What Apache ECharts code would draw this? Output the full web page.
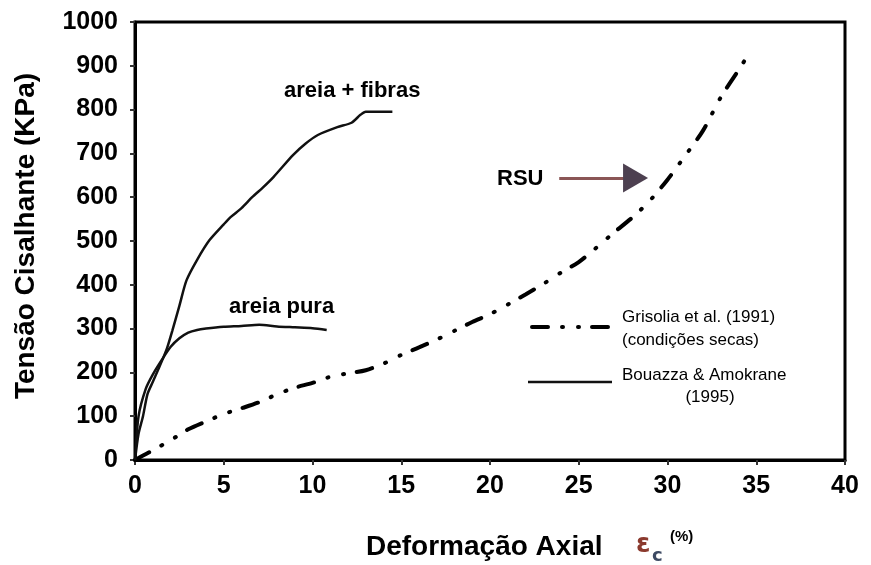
<!DOCTYPE html>
<html>
<head>
<meta charset="utf-8">
<script src="https://cdn.jsdelivr.net/npm/echarts/dist/echarts.min.js"></script>
<style>
  html, body { margin: 0; padding: 0; background: #ffffff; }
  #chart { width: 871px; height: 565px; }
</style>
</head>
<body>
<div id="chart"></div>
<script>
// Axial strain (%) vs shear stress (kPa)
const xTicks = [0, 5, 10, 15, 20, 25, 30, 35, 40];
const yTicks = [0, 100, 200, 300, 400, 500, 600, 700, 800, 900, 1000];

// Grisolia et al. (1991) — RSU, dry conditions
const rsuStrain = [0, 0.3, 1, 2, 3, 4, 5, 6, 7, 8, 9, 10, 11, 12, 13, 14, 15, 16, 17, 18, 19, 20, 21, 22, 23, 24, 25, 26, 27, 28, 29, 30, 31, 32, 33, 34, 34.5];
const rsuStress = [0, 7, 22, 45, 70, 88, 105, 118, 132, 150, 165, 176, 190, 198, 205, 220, 240, 257, 275, 295, 315, 333, 355, 378, 402, 428, 452, 485, 520, 553, 592, 640, 695, 752, 828, 890, 922];

// Bouazza & Amokrane (1995) — sand + fibres
const fibrasStrain = [0, 0.2, 0.45, 0.7, 1.0, 1.4, 1.8, 2.1, 2.5, 2.9, 3.5, 4.2, 5.0, 5.4, 6.0, 6.6, 7.2, 7.8, 8.9, 9.6, 10.3, 11.4, 12.2, 12.7, 13.0, 14.5];
const fibrasStress = [0, 60, 100, 150, 178, 215, 255, 295, 352, 410, 457, 502, 538, 555, 575, 600, 622, 646, 696, 722, 742, 760, 770, 788, 795, 795];

// Bouazza & Amokrane (1995) — pure sand
const puraStrain = [0, 0.2, 0.6, 1.0, 1.5, 2.0, 2.5, 3.0, 3.5, 4.0, 5.0, 6.0, 7.0, 8.0, 9.0, 10.0, 10.8];
const puraStress = [0, 100, 162, 195, 228, 258, 278, 291, 297, 300, 304, 306, 309, 305, 303, 301, 297];

const pairs = (xs, ys) => xs.map((x, i) => [x, ys[i]]);

const FONT = '"Liberation Sans", Arial, sans-serif';
const chart = echarts.init(document.getElementById('chart'), null, { renderer: 'canvas' });

const dashDotDot = [16, 14, 1, 15, 1, 13];

chart.setOption({
  animation: false,
  backgroundColor: '#ffffff',
  grid: {
    left: 135, right: 26, top: 22, bottom: 105,
    show: true, borderColor: '#000', borderWidth: 3
  },
  xAxis: {
    type: 'value', min: 0, max: 40, interval: 5,
    axisLine: { show: true, lineStyle: { color: '#000', width: 3 } },
    axisTick: { show: true, length: 5, lineStyle: { color: '#333', width: 2 } },
    splitLine: { show: false },
    axisLabel: {
      color: '#000', fontFamily: FONT, fontWeight: 'bold', fontSize: 25, margin: 14,
      formatter: v => xTicks.includes(v) ? String(v) : ''
    }
  },
  yAxis: {
    type: 'value', min: 0, max: 1000, interval: 100,
    axisLine: { show: true, lineStyle: { color: '#000', width: 3 } },
    axisTick: { show: true, length: 5, lineStyle: { color: '#333', width: 2 } },
    splitLine: { show: false },
    axisLabel: {
      color: '#000', fontFamily: FONT, fontWeight: 'bold', fontSize: 25, margin: 17,
      formatter: v => yTicks.includes(v) ? String(v) : ''
    }
  },
  series: [
    {
      name: 'Grisolia et al. (1991)',
      type: 'line', showSymbol: false, smooth: 0.3,
      data: pairs(rsuStrain, rsuStress),
      lineStyle: { color: '#000', width: 4, type: dashDotDot, cap: 'round' }
    },
    {
      name: 'areia + fibras',
      type: 'line', showSymbol: false, smooth: 0.25,
      data: pairs(fibrasStrain, fibrasStress),
      lineStyle: { color: '#111', width: 2.5 }
    },
    {
      name: 'areia pura',
      type: 'line', showSymbol: false, smooth: 0.25,
      data: pairs(puraStrain, puraStress),
      lineStyle: { color: '#111', width: 2.5 }
    },
    {
      name: 'RSU',
      type: 'line', data: [],
      markLine: {
        silent: true, symbol: ['none', 'none'],
        lineStyle: { color: '#8a5656', width: 3, type: 'solid' },
        label: { show: false },
        data: [[{ coord: [23.9, 644] }, { coord: [27.6, 644] }]]
      },
      markPoint: {
        silent: true, symbol: 'triangle', symbolSize: [29, 25], symbolRotate: -90,
        itemStyle: { color: '#4d4050' },
        label: { show: false },
        data: [{ coord: [28.2, 644] }]
      }
    }
  ],
  graphic: [
    // axis titles
    {
      type: 'text', x: 26, y: 236, rotation: Math.PI / 2,
      style: { text: 'Tensão Cisalhante (KPa)', fill: '#000', font: 'bold 28px ' + FONT, textAlign: 'center', textVerticalAlign: 'middle' }
    },
    {
      type: 'text', x: 366, y: 547,
      style: { text: 'Deformação Axial', fill: '#000', font: 'bold 28px ' + FONT, textAlign: 'left', textVerticalAlign: 'middle' }
    },
    {
      type: 'text', x: 636, y: 545,
      style: { text: 'ε', fill: '#8b3a2e', font: 'bold 26px "DejaVu Sans", sans-serif', textAlign: 'left', textVerticalAlign: 'middle' }
    },
    {
      type: 'text', x: 652, y: 556,
      style: { text: 'c', fill: '#3d4a63', font: 'bold 18px "DejaVu Sans", sans-serif', textAlign: 'left', textVerticalAlign: 'middle' }
    },
    {
      type: 'text', x: 670, y: 537,
      style: { text: '(%)', fill: '#000', font: 'bold 15px ' + FONT, textAlign: 'left', textVerticalAlign: 'middle' }
    },
    // curve annotations
    {
      type: 'text', x: 284, y: 91,
      style: { text: 'areia + fibras', fill: '#000', font: 'bold 22px ' + FONT, textAlign: 'left', textVerticalAlign: 'middle' }
    },
    {
      type: 'text', x: 229, y: 307,
      style: { text: 'areia pura', fill: '#000', font: 'bold 22px ' + FONT, textAlign: 'left', textVerticalAlign: 'middle' }
    },
    {
      type: 'text', x: 497, y: 179,
      style: { text: 'RSU', fill: '#000', font: 'bold 22px ' + FONT, textAlign: 'left', textVerticalAlign: 'middle' }
    },
    // legend
    {
      type: 'line', shape: { x1: 532, y1: 327, x2: 611, y2: 327 },
      style: { stroke: '#000', lineWidth: 4, lineDash: dashDotDot, lineCap: 'round' }
    },
    {
      type: 'text', x: 622, y: 317,
      style: { text: 'Grisolia et al. (1991)', fill: '#000', font: '17px ' + FONT, textAlign: 'left', textVerticalAlign: 'middle' }
    },
    {
      type: 'text', x: 622, y: 340,
      style: { text: '(condições secas)', fill: '#000', font: '17px ' + FONT, textAlign: 'left', textVerticalAlign: 'middle' }
    },
    {
      type: 'line', shape: { x1: 528, y1: 382, x2: 612, y2: 382 },
      style: { stroke: '#111', lineWidth: 2.5 }
    },
    {
      type: 'text', x: 622, y: 375,
      style: { text: 'Bouazza & Amokrane', fill: '#000', font: '17px ' + FONT, textAlign: 'left', textVerticalAlign: 'middle' }
    },
    {
      type: 'text', x: 710, y: 397,
      style: { text: '(1995)', fill: '#000', font: '17px ' + FONT, textAlign: 'center', textVerticalAlign: 'middle' }
    }
  ]
});
</script>
</body>
</html>
